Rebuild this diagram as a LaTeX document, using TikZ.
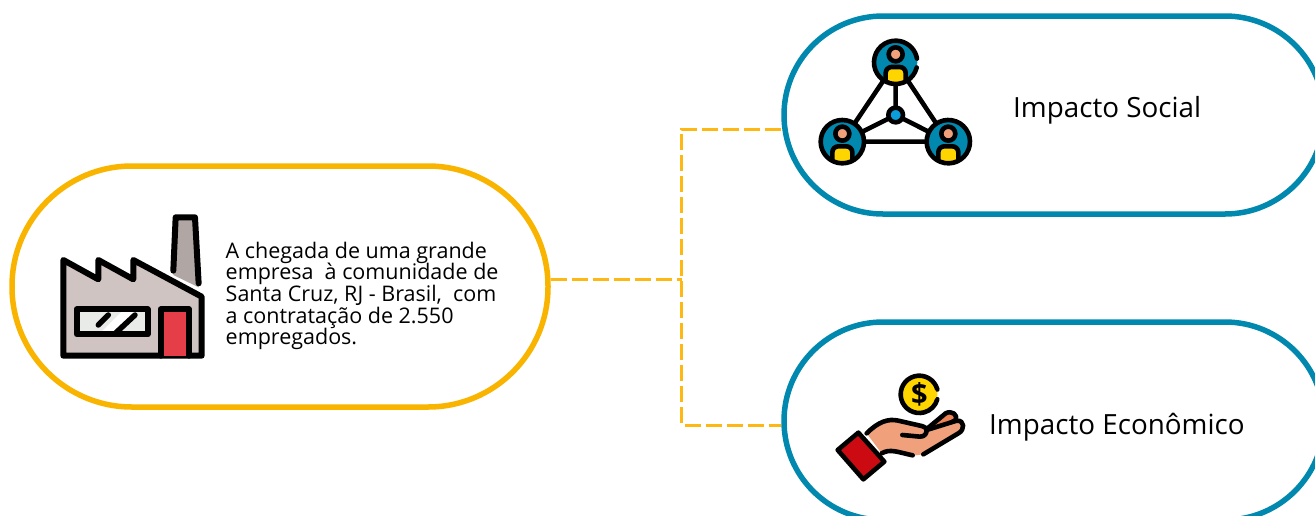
\documentclass[tikz,border=0pt]{standalone}
\usepackage{fontspec}
\setmainfont{Open Sans}
\usetikzlibrary{calc}
\definecolor{amberline}{HTML}{F9B400}
\definecolor{dashline}{HTML}{FDB813}
\definecolor{tealline}{HTML}{0088AE}
\definecolor{wallgrey}{HTML}{CFC4C2}
\definecolor{stackgrey}{HTML}{B0A6A3}
\definecolor{winpale}{HTML}{E9EBE9}
\definecolor{doorred}{HTML}{E63E48}
\definecolor{skin}{HTML}{F1A07C}
\definecolor{skindark}{HTML}{EE8455}
\definecolor{gold}{HTML}{FFD500}
\definecolor{cuffred}{HTML}{CC0A12}
\definecolor{hubblue}{HTML}{0A9FDA}
\tikzset{
  pill/.style={draw,line width=5.5pt,fill=white,inner sep=0pt,rectangle},
  mainpill/.style={pill,draw=amberline,minimum width=536pt,minimum height=241pt,rounded corners=120pt},
  sidepill/.style={pill,draw=tealline,minimum width=540pt,minimum height=198pt,rounded corners=99pt},
  linkline/.style={draw=dashline,line width=3pt,dash pattern=on 16pt off 5pt},
  ink/.style={draw=black,line width=4.6pt,line cap=round,line join=round},
  label/.style={inner sep=0pt,font=\fontsize{27.8}{32}\selectfont,anchor=west},
  body/.style={inner sep=0pt,anchor=north west,align=left,font=\fontsize{21.5}{21.7}\selectfont},
}
\newcommand{\personicon}[3]{%
  \begin{scope}[shift={(#1,#2)}]
    \fill[tealline] (0,0) circle (65);
    \begin{scope}
      \clip (0,0) circle (65);
      \draw[ink,fill=gold,rounded corners=6pt] (-30,14) rectangle (30,84);
    \end{scope}
    \draw[ink,fill=skin] (0,-24) circle (21);
    \draw[ink] #3;
  \end{scope}}
\begin{document}
\begin{tikzpicture}[x=1pt,y=-1pt]
\clip (0,0) rectangle (1315,515);
\fill[white] (0,0) rectangle (1315,515);

\node[mainpill] (main) at (280,286.5) {};
\node[sidepill] (social) at (1054,115) {};
\node[sidepill] (econ) at (1054,421) {};

\coordinate (hub) at (681.5,279.5);
\coordinate (hubtop) at (681.5,129);
\coordinate (hubbot) at (681.5,425);
\draw[linkline] (main.east |- hub) -- (hub);
\draw[linkline] (social.west |- hubtop) -- (hubtop) -- (hubbot) -- (econ.west |- hubbot);

% factory
\begin{scope}[shift={(40,200)},x=0.3333pt,y=-0.3333pt]
  \fill[stackgrey] (407,52) -- (465,52) -- (476,262) -- (400,225) -- cycle;
  \draw[ink,line width=6pt] (400,212) -- (407,52) -- (465,52) -- (476,250);
  \draw[ink,line width=6pt,fill=wallgrey] (70,180) -- (175,238) -- (175,180) -- (280,238) -- (280,180) -- (485,290) -- (485,467) -- (70,467) -- cycle;
  \fill[winpale] (110,328) rectangle (323,403);
  \fill[white] (185,395) -- (245,335) -- (290,335) -- (230,395) -- cycle;
  \draw[ink,line width=5.5pt] (175,375) -- (205,345);
  \draw[ink,line width=5.5pt] (228,398) -- (285,345);
  \draw[ink,line width=6pt] (110,328) rectangle (323,403);
  \draw[ink,line width=6pt,fill=doorred] (362,467) -- (362,328) -- (447,328) -- (447,467);
\end{scope}

% people network
\begin{scope}[shift={(810,30)},x=0.3333pt,y=-0.3333pt]
  \draw[ink] (257,97) -- (97,335) -- (415,335) -- cycle;
  \draw[ink] (257,97) -- (257,255) (97,335) -- (257,255) -- (415,335);
  \draw[ink,fill=hubblue] (257,255) circle (22);
  \personicon{257}{97}{(14:65) arc (14:350:65)}
  \personicon{97}{335}{(0:65) arc (0:360:65)}
  \personicon{415}{335}{(-80:65) arc (-80:-440:65)}
\end{scope}

% hand and coin
\begin{scope}[shift={(825,365)},x=0.3333pt,y=-0.3333pt]
  \draw[ink,fill=gold] (283,88) ++(-15:56) arc (-15:-345:56);
  \fill[gold] (283,88) ++(-15:50) arc (-15:15:50) -- (283,88) -- cycle;
  \draw[ink,fill=skindark] (310,188) -- (362,145) .. controls (380,135) and (400,150) .. (392,165) -- (340,195) -- cycle;
  \fill[skin] (125,205) .. controls (160,170) and (190,160) .. (220,167) -- (300,190) -- (395,165) .. controls (420,170) and (420,195) .. (400,205) -- (295,268) -- (265,272) -- (195,255) -- (170,265) -- cycle;
  \draw[ink] (125,205) .. controls (160,170) and (190,160) .. (220,167) -- (290,183) .. controls (300,186) and (305,190) .. (305,195);
  \draw[ink] (232,210) -- (285,215) .. controls (300,215) and (305,205) .. (305,195) -- (395,167) .. controls (420,165) and (420,195) .. (400,205) -- (295,268);
  \draw[ink] (170,265) .. controls (195,250) and (220,262) .. (263,271);
  \draw[ink,fill=cuffred] (100,203) -- (178,290) -- (115,343) -- (38,255) -- cycle;
\end{scope}
\node[inner sep=0pt,font=\fontsize{29}{30}\selectfont\bfseries] (dollar) at (919.5,394.5) {\$};

\node[body] (maintext) at (225.5,241.5) {A chegada de uma grande\\empresa\ \ à comunidade de\\Santa Cruz, RJ - Brasil,\ \ com\\a contratação de 2.550\\empregados.};
\node[label] (sociallabel) at (1013,110) {Impacto Social};
\node[label] (econlabel) at (989,427) {Impacto Econômico};
\end{tikzpicture}
\end{document}
